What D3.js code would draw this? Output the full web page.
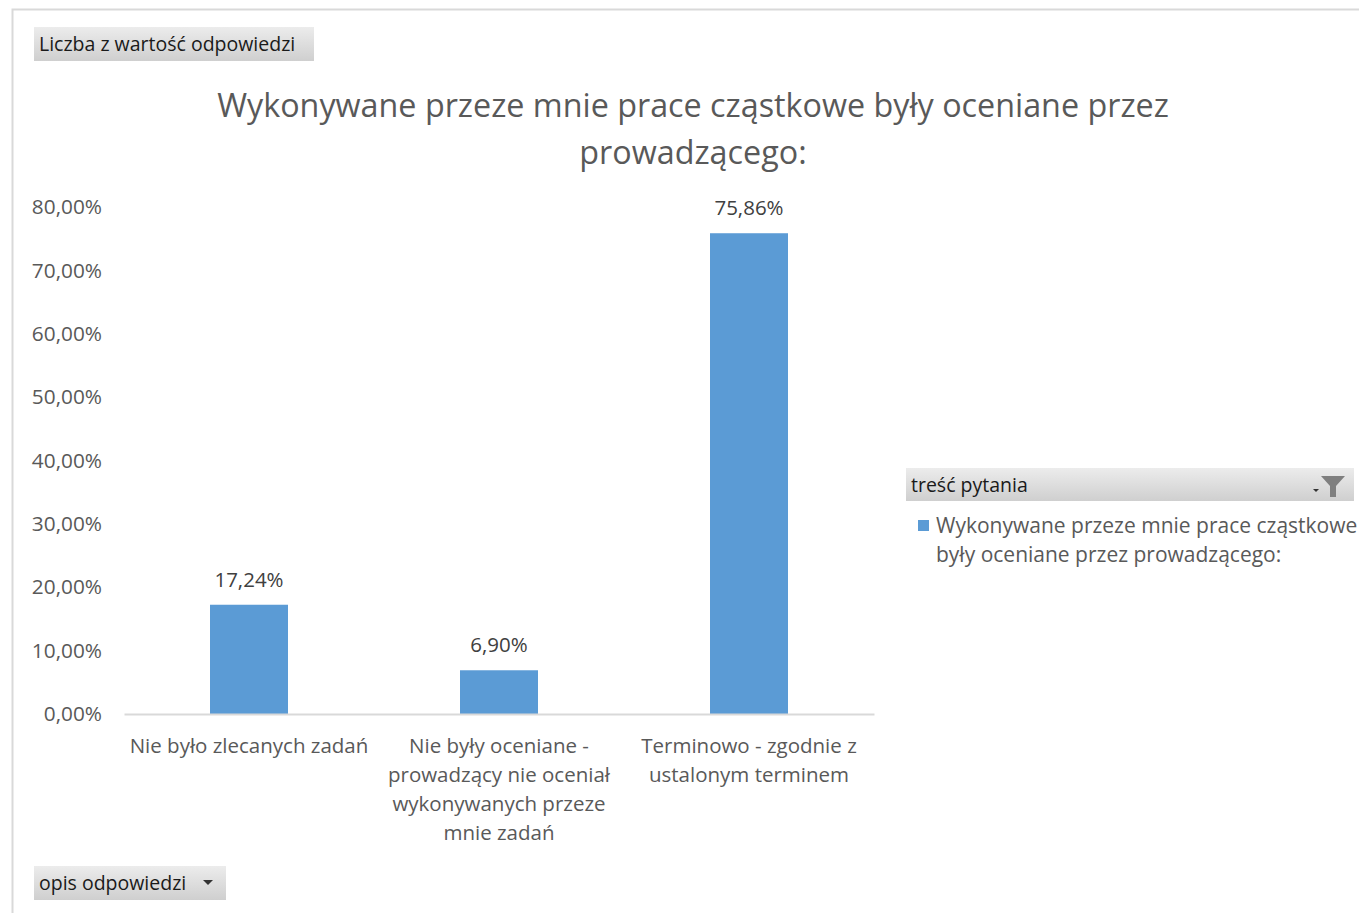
<!DOCTYPE html>
<html><head><meta charset="utf-8">
<script src="https://cdn.jsdelivr.net/npm/d3@7"></script>
<style>
body{margin:0;background:#fff;}
svg{display:block;}
text{font-family:"Open Sans","Noto Sans",sans-serif;}
</style></head>
<body>
<svg id="c" width="1359" height="913"></svg>
<script>
const categories = [
  ["Nie było zlecanych zadań"],
  ["Nie były oceniane -", "prowadzący nie oceniał", "wykonywanych przeze", "mnie zadań"],
  ["Terminowo - zgodnie z", "ustalonym terminem"]
];
const values = [17.24, 6.90, 75.86];
const yTicks = [0, 10, 20, 30, 40, 50, 60, 70, 80];
const titleLines = ["Wykonywane przeze mnie prace cząstkowe były oceniane przez", "prowadzącego:"];
const seriesName = ["Wykonywane przeze mnie prace cząstkowe", "były oceniane przez prowadzącego:"];

const svg = d3.select("#c");
const fmt = v => d3.format(".2f")(v).replace(".", ",") + "%";

const defs = svg.append("defs");
const g1 = defs.append("linearGradient").attr("id","btn").attr("x1",0).attr("y1",0).attr("x2",0).attr("y2",1);
g1.append("stop").attr("offset","0%").attr("stop-color","#ececec");
g1.append("stop").attr("offset","100%").attr("stop-color","#cfcfcf");

// chart border
svg.append("path").attr("d","M12.5,913 V9.5 H1359").attr("fill","none").attr("stroke","#d9d9d9").attr("stroke-width",2);

// pivot field buttons
function button(x,y,w,h,label){
  svg.append("rect").attr("x",x).attr("y",y).attr("width",w).attr("height",h).attr("fill","url(#btn)");
  svg.append("text").attr("x",x+5).attr("y",y+h/2+7).attr("font-size",19.5).attr("fill","#1a1a1a").text(label);
}
button(34,27,280,34,"Liczba z wartość odpowiedzi");
button(34,866,192,34,"opis odpowiedzi");
svg.append("path").attr("d","M203,880 h10 l-5,5 z").attr("fill","#333");

// title
svg.append("text").attr("text-anchor","middle").attr("fill","#595959").attr("font-size",32.3)
  .selectAll("tspan").data(titleLines).join("tspan")
  .attr("x",693).attr("y",(d,i)=>117+i*47).text(d=>d);

const x = d3.scaleBand().domain(d3.range(categories.length)).range([124,874]).paddingInner(0.688).paddingOuter(0.344);
const y = d3.scaleLinear().domain([0,80]).range([714,207]);

// y axis labels
const yAxis = d3.axisLeft(y).tickValues(yTicks).tickSize(0).tickPadding(0).tickFormat(d=>fmt(d));
const ya = svg.append("g").attr("transform","translate(102,0)").call(yAxis);
ya.select(".domain").remove();
ya.selectAll("text").attr("fill","#595959").attr("font-size",20.8).style("font-family","'Open Sans',sans-serif");

// bars
svg.append("g").selectAll("rect").data(values).join("rect")
  .attr("x",(d,i)=>x(i)).attr("width",x.bandwidth())
  .attr("y",d=>y(d)).attr("height",d=>y(0)-y(d)).attr("fill","#5b9bd5");

// baseline
const xAxis = d3.axisBottom(x).tickSize(0).tickFormat("");
const xa = svg.append("g").attr("transform",`translate(0,${y(0)})`).call(xAxis);
xa.select(".domain").attr("stroke","#d9d9d9").attr("stroke-width",2);

// data labels
svg.append("g").selectAll("text").data(values).join("text")
  .attr("x",(d,i)=>x(i)+x.bandwidth()/2).attr("y",d=>y(d)-18)
  .attr("text-anchor","middle").attr("fill","#404040").attr("font-size",20.5).text(d=>fmt(d));

// category labels
svg.append("g").selectAll("text").data(categories).join("text")
  .attr("text-anchor","middle").attr("fill","#595959").attr("font-size",20.5)
  .each(function(lines,i){
    d3.select(this).selectAll("tspan").data(lines).join("tspan")
      .attr("x",x(i)+x.bandwidth()/2).attr("y",(d,j)=>753+j*29).text(d=>d);
  });

// legend header
svg.append("rect").attr("x",906).attr("y",468).attr("width",448).attr("height",33).attr("fill","url(#btn)");
svg.append("text").attr("x",911).attr("y",492).attr("font-size",19.5).attr("fill","#1a1a1a").text("treść pytania");
svg.append("path").attr("d","M1321,476 h24 l-9,10 v11 h-6 v-11 z").attr("fill","#7f7f7f");
svg.append("path").attr("d","M1313,489 h6 l-3,3 z").attr("fill","#333");

// legend entry
svg.append("rect").attr("x",918).attr("y",520).attr("width",11).attr("height",11).attr("fill","#5b9bd5");
svg.append("text").attr("fill","#595959").attr("font-size",21)
  .selectAll("tspan").data(seriesName).join("tspan")
  .attr("x",936).attr("y",(d,i)=>533+i*29).text(d=>d);
</script>
</body></html>
